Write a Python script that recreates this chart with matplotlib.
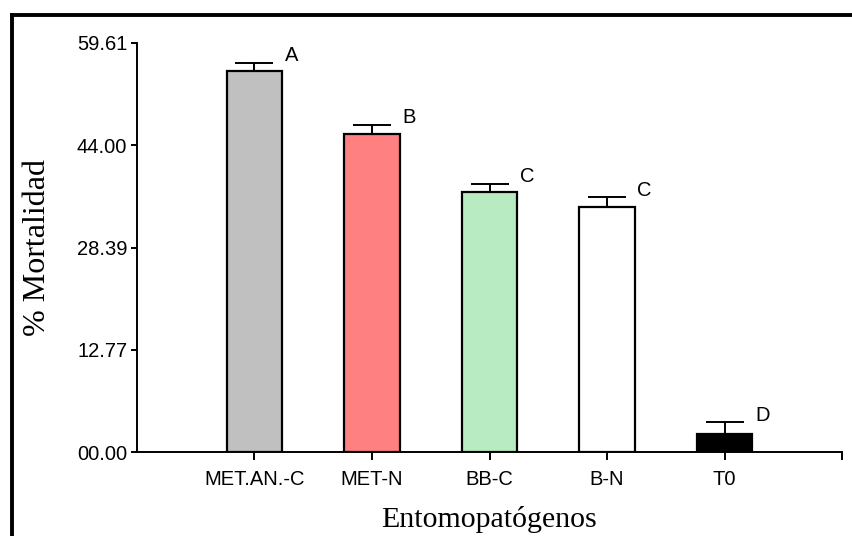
import matplotlib
matplotlib.use('Agg')
import matplotlib.pyplot as plt
from matplotlib.lines import Line2D

# data
categories = ['MET.AN.-C', 'MET-N', 'BB-C', 'B-N', 'T0']
mortality = [55.5, 46.4, 37.9, 35.7, 2.6]
errors = [1.2, 1.2, 1.2, 1.4, 1.7]
groups = ['A', 'B', 'C', 'C', 'D']
bar_colors = ['#c0c0c0', '#ff8080', '#b9ebc2', '#ffffff', '#000000']
ytick_labels = ['00.00', '12.77', '28.39', '44.00', '59.61']
YMAX = 59.61

W, H = 853, 536
fig = plt.figure(figsize=(W / 100, H / 100), dpi=100)
ax = fig.add_axes([137 / W, 1 - 452 / H, (842 - 137) / W, (452 - 43) / H])

x = list(range(len(categories)))
ax.bar(x, mortality, width=0.47, color=bar_colors, edgecolor='black',
       linewidth=1.6, zorder=2)
ax.errorbar(x, mortality, yerr=[[0] * len(errors), errors], fmt='none',
            ecolor='black', elinewidth=1.4, capsize=13.5, capthick=1.4,
            zorder=3)

for xi, m, e, g in zip(x, mortality, errors, groups):
    ax.annotate(g, (xi + 0.235, m + e), xytext=(2, -1.5),
                textcoords='offset points', ha='left', va='bottom',
                fontsize=14.5, family='Liberation Sans')

ax.set_xlim(-1, 5)
ax.set_ylim(0, YMAX)
ax.set_xticks(x + [5])
ax.set_xticklabels(categories + [''])
ax.set_yticks([YMAX * i / 4 for i in range(5)])
ax.set_yticklabels(ytick_labels)

for s in ('top', 'right'):
    ax.spines[s].set_visible(False)
for s in ('left', 'bottom'):
    ax.spines[s].set_linewidth(1.4)

ax.tick_params(axis='y', direction='out', length=4, width=1.4, pad=3,
               labelsize=14.5)
ax.tick_params(axis='x', direction='out', length=6, width=1.4, pad=7,
               labelsize=14.5)
for lab in ax.get_xticklabels() + ax.get_yticklabels():
    lab.set_family('Liberation Sans')

ax.set_xlabel('Entomopatógenos', family='Liberation Serif', fontsize=21.5,
              labelpad=12)
ax.set_ylabel('% Mortalidad', family='Liberation Serif', fontsize=23,
              labelpad=18)

# black frame around the picture (top and left edges)
fig.add_artist(Line2D([12.5 / W, 1], [1 - 14.5 / H, 1 - 14.5 / H],
                      color='black', linewidth=2.8,
                      transform=fig.transFigure))
fig.add_artist(Line2D([12.5 / W, 12.5 / W], [0, 1 - 14.5 / H],
                      color='black', linewidth=2.8,
                      transform=fig.transFigure))

fig.savefig('out.png', dpi=100)
